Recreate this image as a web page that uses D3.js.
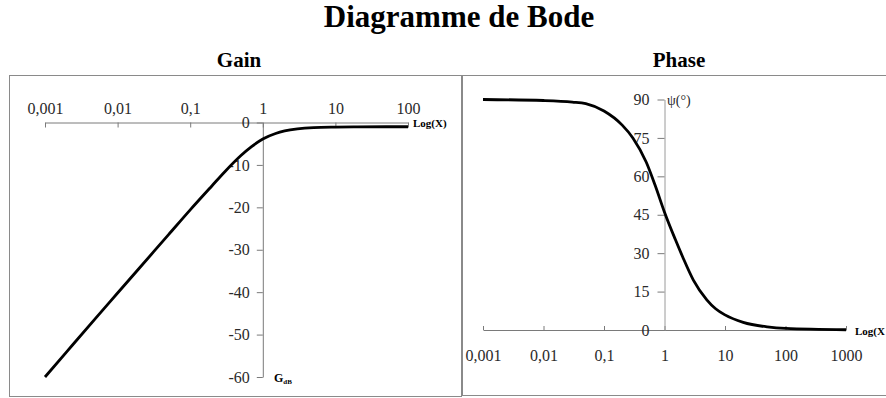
<!DOCTYPE html>
<html>
<head>
<meta charset="utf-8">
<script src="https://cdn.jsdelivr.net/npm/d3@7"></script>
<style>
  html, body { margin: 0; padding: 0; background: #fff; overflow: hidden; }
  svg text { font-family: "Liberation Serif", "Times New Roman", serif; }
</style>
</head>
<body>
<svg id="chart" width="886" height="398"></svg>
<script>
// ---- Data ----
const gainX      = [0.001, 0.002, 0.005, 0.01, 0.02, 0.05, 0.1, 0.2, 0.3, 0.5, 0.7, 1, 1.5, 2, 3, 5, 10, 20, 50, 100];
const gainDb     = [-60, -54, -46.1, -40.2, -34.3, -26.5, -20.6, -14.9, -11.6, -7.8, -5.7, -3.9, -2.6, -2.0, -1.5, -1.2, -1.08, -1.03, -1.0, -1.0];
const phaseX     = [0.001, 0.01, 0.03, 0.05, 0.1, 0.2, 0.3, 0.5, 0.7, 1, 1.5, 2, 3, 5, 7, 10, 20, 50, 100, 1000];
const phaseDeg   = [90, 89.6, 89, 88.4, 85.5, 80, 75, 65.5, 56.5, 46, 35.5, 28.5, 19.5, 11.8, 8.3, 5.9, 3, 1.2, 0.6, 0.1];
const gainXTicks  = [0.001, 0.01, 0.1, 1, 10, 100];
const gainXLabels = ["0,001", "0,01", "0,1", "1", "10", "100"];
const gainYTicks  = [0, -10, -20, -30, -40, -50, -60];
const phaseXTicks  = [0.001, 0.01, 0.1, 1, 10, 100, 1000];
const phaseXLabels = ["0,001", "0,01", "0,1", "1", "10", "100", "1000"];
const phaseYTicks  = [0, 15, 30, 45, 60, 75, 90];

const SERIF = '"Liberation Serif", "Times New Roman", serif';
const svg = d3.select("#chart");
const axisColor = "#7a7a7a";
const textColor = "#2a2a2a";

function label(x, y, txt, size, bold, anchor) {
  return svg.append("text").attr("x", x).attr("y", y)
    .attr("text-anchor", anchor || "start")
    .style("font-family", SERIF).style("font-size", size + "px")
    .style("font-weight", bold ? "bold" : "normal")
    .attr("fill", "#000").text(txt);
}

// Titles
label(459, 27, "Diagramme de Bode", 31, true, "middle");
label(239, 67, "Gain", 21, true, "middle");
label(679, 67, "Phase", 21, true, "middle");

// Panel frames
svg.append("rect").attr("x", 9.5).attr("y", 75.5).attr("width", 452).attr("height", 321)
  .attr("fill", "none").attr("stroke", "#8a8a8a");
svg.append("rect").attr("x", 462.5).attr("y", 75.5).attr("width", 440).attr("height", 320)
  .attr("fill", "none").attr("stroke", "#8a8a8a");

function styleAxis(g, fs) {
  g.attr("font-family", null).attr("font-size", null);
  g.selectAll("path.domain").attr("stroke", axisColor);
  g.selectAll(".tick line").attr("stroke", axisColor);
  g.selectAll(".tick text").attr("fill", textColor)
    .style("font-family", SERIF).style("font-size", fs + "px");
}

// ---- Gain panel ----
const xG = d3.scaleLog().domain([0.001, 100]).range([45, 408]);
const yG = d3.scaleLinear().domain([-60, 0]).range([377, 122.5]);

const gxAxis = d3.axisTop(xG).tickValues(gainXTicks)
  .tickFormat((d, i) => gainXLabels[i]).tickSizeInner(-5).tickSizeOuter(0).tickPadding(9);
const gx = svg.append("g").attr("transform", `translate(0,${yG(0)})`).call(gxAxis);
styleAxis(gx, 16);

const gyAxis = d3.axisLeft(yG).tickValues(gainYTicks)
  .tickFormat(d => String(d)).tickSizeInner(6).tickSizeOuter(0).tickPadding(7);
const gy = svg.append("g").attr("transform", `translate(${xG(1)},0)`).call(gyAxis);
styleAxis(gy, 16);

label(413, 126.5, "Log(X)", 11, true);
const gdb = label(274, 382, "", 12, true);
gdb.append("tspan").text("G");
gdb.append("tspan").style("font-size", "7px").attr("dy", 2).text("dB");

const gainLine = d3.line().x((d, i) => xG(gainX[i])).y(d => yG(d)).curve(d3.curveMonotoneX);
svg.append("path").attr("d", gainLine(gainDb)).attr("fill", "none")
  .attr("stroke", "#000").attr("stroke-width", 2.8).attr("stroke-linejoin", "round");

// ---- Phase panel ----
const xP = d3.scaleLog().domain([0.001, 1000]).range([483, 846]);
const yP = d3.scaleLinear().domain([0, 90]).range([330, 99.5]);

const pxAxis = d3.axisBottom(xP).tickValues(phaseXTicks)
  .tickFormat((d, i) => phaseXLabels[i]).tickSizeInner(-4).tickSizeOuter(0).tickPadding(20);
const px = svg.append("g").attr("transform", `translate(0,${yP(0)})`).call(pxAxis);
styleAxis(px, 16);

const pyAxis = d3.axisLeft(yP).tickValues(phaseYTicks)
  .tickFormat(d => String(d)).tickSizeInner(7).tickSizeOuter(0).tickPadding(8);
const py = svg.append("g").attr("transform", `translate(${xP(1)},0)`).call(pyAxis);
styleAxis(py, 16);
py.selectAll("path.domain").attr("stroke", "#9a9a9a");

label(667, 105, "ψ(°)", 14, false).attr("fill", textColor);
label(855, 334.5, "Log(X", 11, true);

const phaseLine = d3.line().x((d, i) => xP(phaseX[i])).y(d => yP(d)).curve(d3.curveMonotoneX);
svg.append("path").attr("d", phaseLine(phaseDeg)).attr("fill", "none")
  .attr("stroke", "#000").attr("stroke-width", 2.8).attr("stroke-linejoin", "round");
</script>
</body>
</html>
